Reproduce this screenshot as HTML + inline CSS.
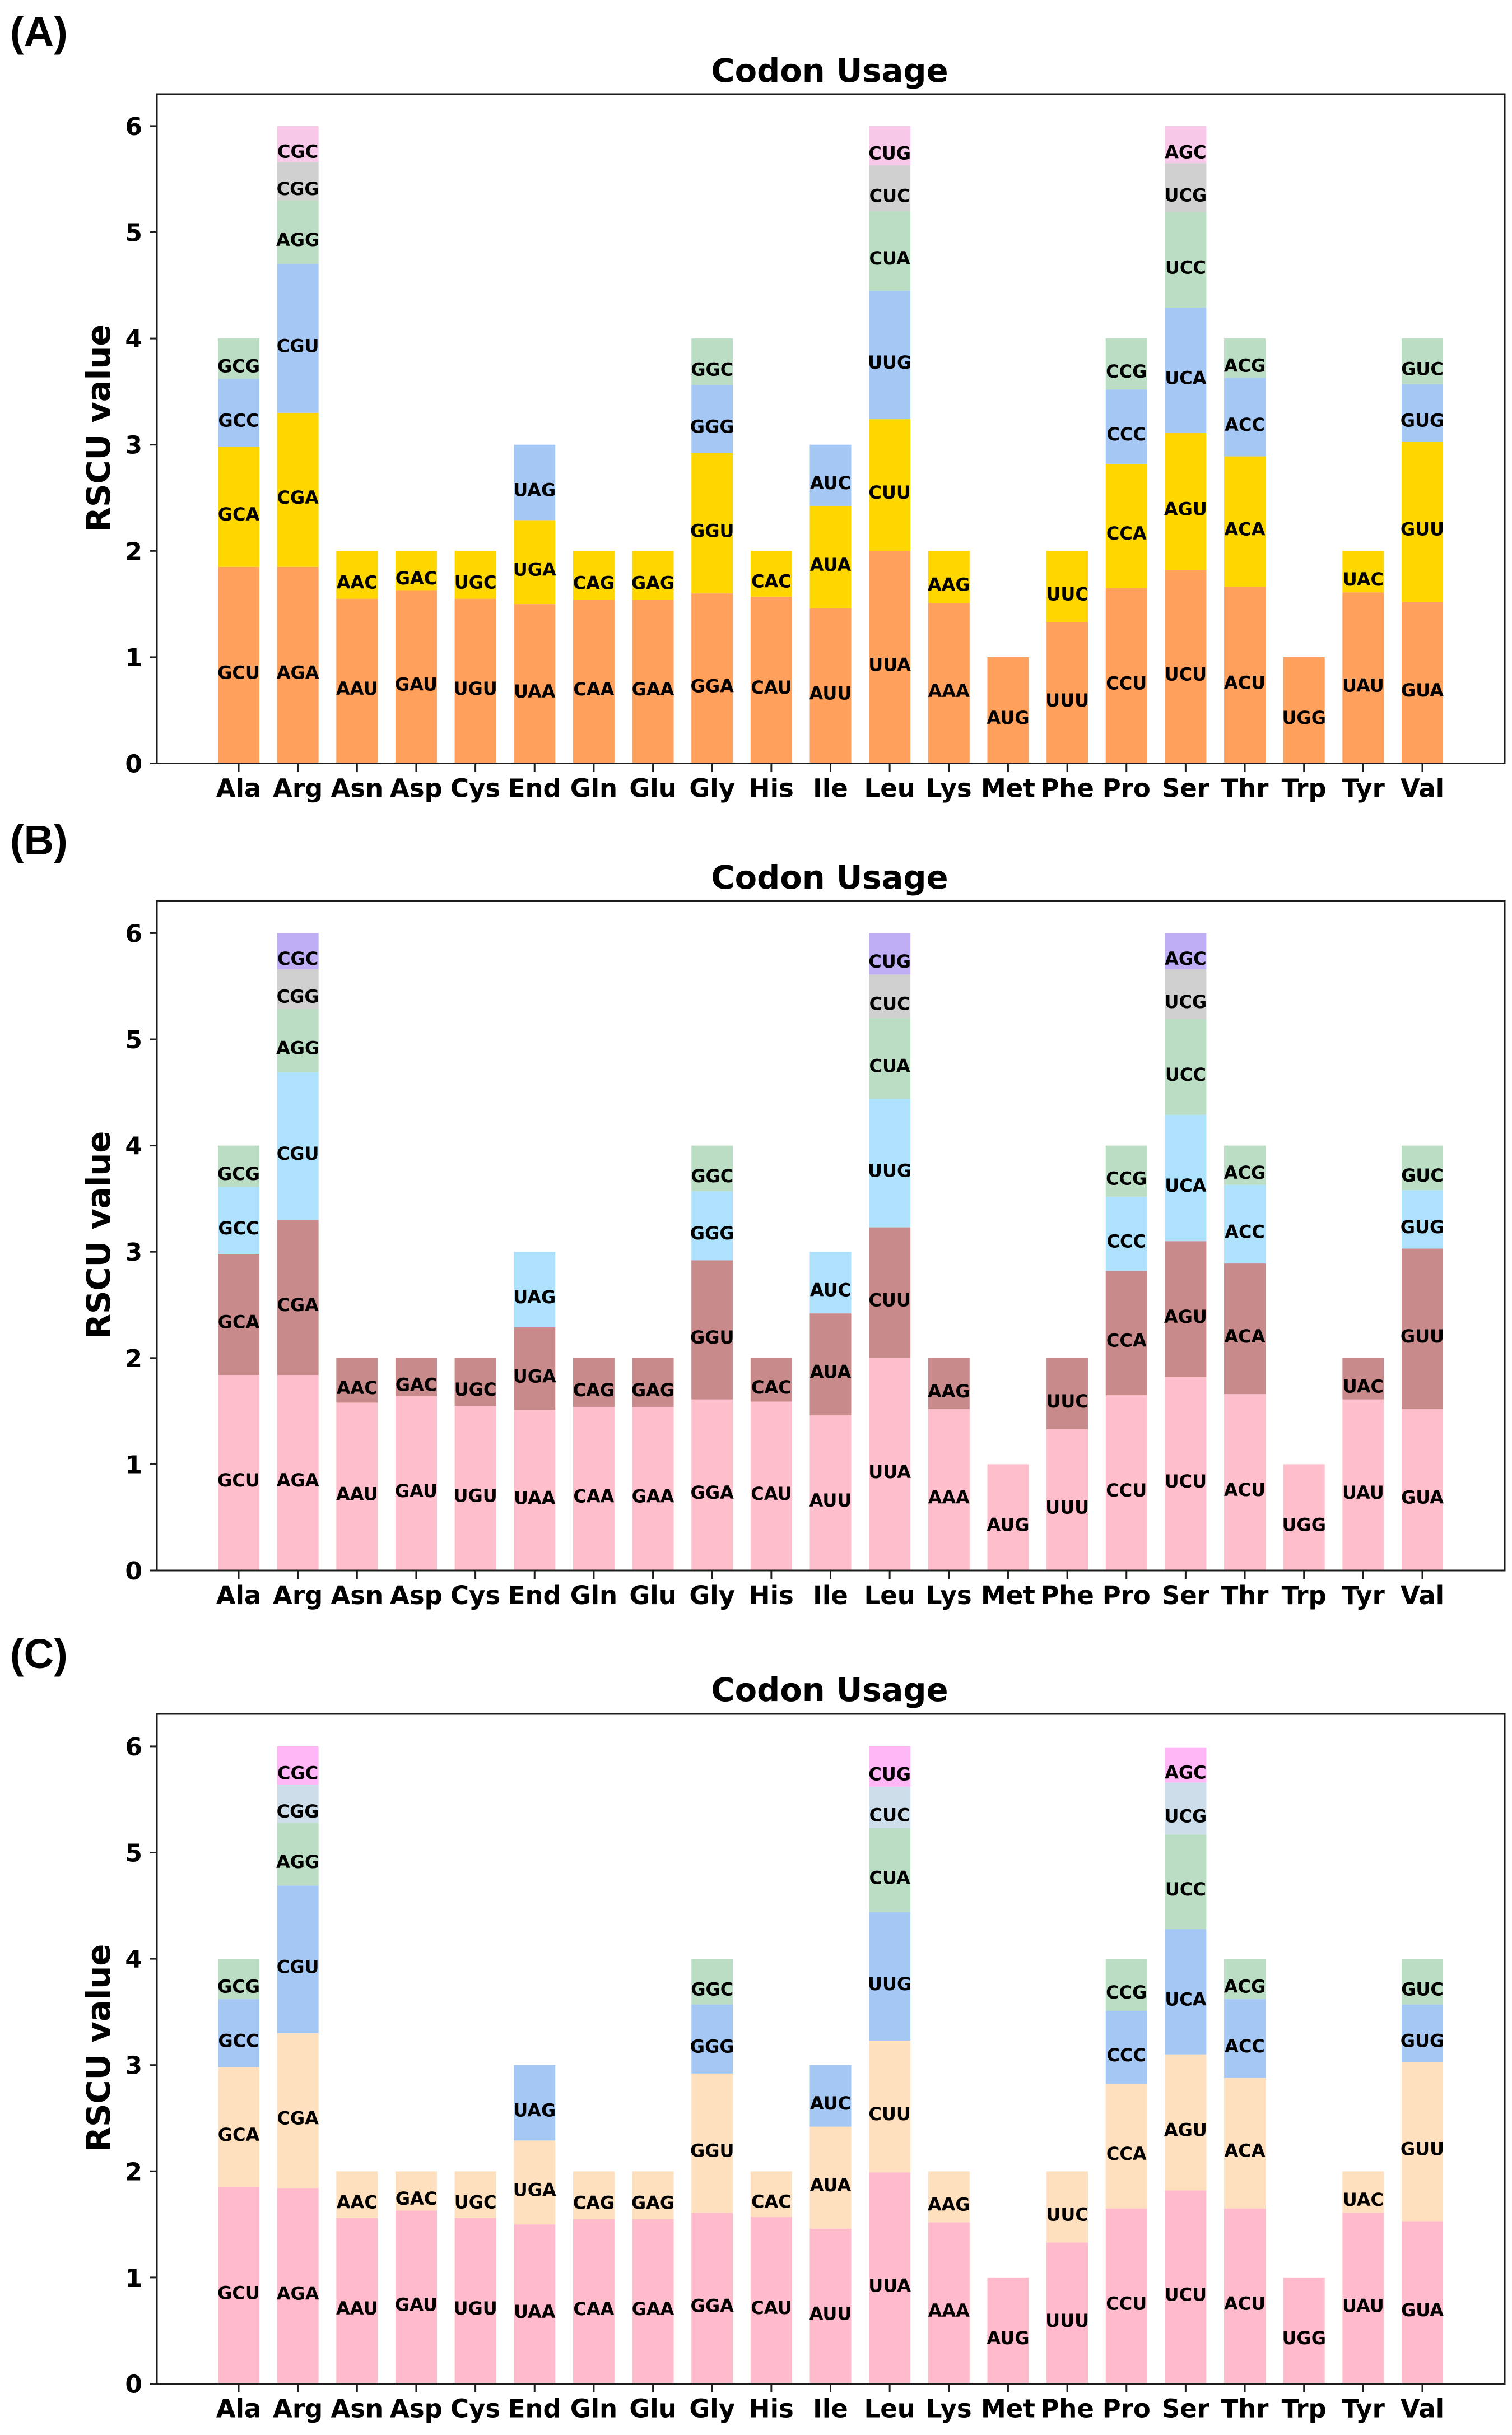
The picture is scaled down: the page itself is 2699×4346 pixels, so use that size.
<!DOCTYPE html>
<html lang="en">
<head>
<meta charset="utf-8">
<title>Codon Usage RSCU stacked bars</title>
<style>
  html, body { margin: 0; padding: 0; background: #ffffff; }
  body { width: 2699px; height: 4346px; overflow: hidden; }
  svg { display: block; }
  text { font-family: "DejaVu Sans", "Liberation Sans", sans-serif; font-weight: 700; fill: #000; }
  .panel-tag { font-family: "Liberation Sans", "DejaVu Sans", sans-serif; font-size: 74px; }
  .chart-title { font-size: 57.5px; text-anchor: middle; }
  .y-title { font-size: 57.5px; text-anchor: middle; }
</style>
</head>
<body>
<svg id="figure" xmlns="http://www.w3.org/2000/svg" width="2699" height="4346" viewBox="0 0 2699 4346">
  <rect x="0" y="0" width="2699" height="4346" fill="#ffffff"/>

  <text class="panel-tag" x="18" y="82">(A)</text>
  <text class="chart-title" x="1481" y="146">Codon Usage</text>
  <text class="y-title" transform="translate(196,764) rotate(-90)">RSCU value</text>
  <g id="panel-a"></g>

  <text class="panel-tag" x="18" y="1525">(B)</text>
  <text class="chart-title" x="1481" y="1586">Codon Usage</text>
  <text class="y-title" transform="translate(196,2204) rotate(-90)">RSCU value</text>
  <g id="panel-b"></g>

  <text class="panel-tag" x="18" y="2977">(C)</text>
  <text class="chart-title" x="1481" y="3036">Codon Usage</text>
  <text class="y-title" transform="translate(196,3655) rotate(-90)">RSCU value</text>
  <g id="panel-c"></g>
</svg>

<script>
const categories = ["Ala","Arg","Asn","Asp","Cys","End","Gln","Glu","Gly","His","Ile","Leu","Lys","Met","Phe","Pro","Ser","Thr","Trp","Tyr","Val"];
const yTickValues = [0,1,2,3,4,5,6];
const codons = [
  ["GCU","GCA","GCC","GCG"],
  ["AGA","CGA","CGU","AGG","CGG","CGC"],
  ["AAU","AAC"],
  ["GAU","GAC"],
  ["UGU","UGC"],
  ["UAA","UGA","UAG"],
  ["CAA","CAG"],
  ["GAA","GAG"],
  ["GGA","GGU","GGG","GGC"],
  ["CAU","CAC"],
  ["AUU","AUA","AUC"],
  ["UUA","CUU","UUG","CUA","CUC","CUG"],
  ["AAA","AAG"],
  ["AUG"],
  ["UUU","UUC"],
  ["CCU","CCA","CCC","CCG"],
  ["UCU","AGU","UCA","UCC","UCG","AGC"],
  ["ACU","ACA","ACC","ACG"],
  ["UGG"],
  ["UAU","UAC"],
  ["GUA","GUU","GUG","GUC"]
];
const panelAValues = [
  [1.85,1.13,0.64,0.38],
  [1.85,1.45,1.40,0.60,0.36,0.34],
  [1.55,0.45],
  [1.63,0.37],
  [1.55,0.45],
  [1.50,0.79,0.71],
  [1.54,0.46],
  [1.54,0.46],
  [1.60,1.32,0.64,0.44],
  [1.57,0.43],
  [1.46,0.96,0.58],
  [2.00,1.24,1.21,0.75,0.43,0.37],
  [1.51,0.49],
  [1.00],
  [1.33,0.67],
  [1.65,1.17,0.70,0.48],
  [1.82,1.29,1.18,0.90,0.46,0.35],
  [1.66,1.23,0.74,0.37],
  [1.00],
  [1.61,0.39],
  [1.52,1.51,0.54,0.43]
];
const panelBValues = [
  [1.84,1.14,0.63,0.39],
  [1.84,1.46,1.39,0.60,0.37,0.34],
  [1.58,0.42],
  [1.64,0.36],
  [1.55,0.45],
  [1.51,0.78,0.71],
  [1.54,0.46],
  [1.54,0.46],
  [1.61,1.31,0.65,0.43],
  [1.59,0.41],
  [1.46,0.96,0.58],
  [2.00,1.23,1.21,0.76,0.41,0.39],
  [1.52,0.48],
  [1.00],
  [1.33,0.67],
  [1.65,1.17,0.70,0.48],
  [1.82,1.28,1.19,0.90,0.47,0.34],
  [1.66,1.23,0.74,0.37],
  [1.00],
  [1.61,0.39],
  [1.52,1.51,0.55,0.42]
];
const panelCValues = [
  [1.85,1.13,0.64,0.38],
  [1.84,1.46,1.39,0.59,0.36,0.36],
  [1.56,0.44],
  [1.63,0.37],
  [1.56,0.44],
  [1.50,0.79,0.71],
  [1.55,0.45],
  [1.55,0.45],
  [1.61,1.31,0.65,0.43],
  [1.57,0.43],
  [1.46,0.96,0.58],
  [1.99,1.24,1.21,0.79,0.39,0.38],
  [1.52,0.48],
  [1.00],
  [1.33,0.67],
  [1.65,1.17,0.69,0.49],
  [1.82,1.28,1.18,0.89,0.49,0.33],
  [1.65,1.23,0.74,0.38],
  [1.00],
  [1.61,0.39],
  [1.53,1.50,0.54,0.43]
];
const panelAColors = ["#FFA05C","#FFD700","#A5C7F3","#BBDDC4","#D0D0D0","#F8C8E8"];
const panelBColors = ["#FFBECC","#C88A8A","#AEE2FC","#BBDDC4","#D0D0D0","#C0AEF5"];
const panelCColors = ["#FFBBCB","#FFE0BE","#A5C7F3","#BBDDC4","#CDDDEA","#FFB8F5"];

const NS = "http://www.w3.org/2000/svg";
const plotLeft = 280;
const plotRight = 2686;
const firstBarX = 426;
const barStep = 105.65;
const barWidth = 74;
const unitPx = 189.6;
const axisColor = "#1c1c1c";

function node(tag, attrs, parent) {
  const el = document.createElementNS(NS, tag);
  for (const k in attrs) { el.setAttribute(k, attrs[k]); }
  parent.appendChild(el);
  return el;
}
function xAxis(i) { return firstBarX + i * barStep; }

function drawPanel(groupId, prefix, values, colors, plotTop, zeroY) {
  const g = document.getElementById(groupId);
  const yAxis = function (v) { return zeroY - v * unitPx; };

  values.forEach(function (stack, i) {
    let running = 0;
    stack.forEach(function (h, s) {
      const top = yAxis(running + h);
      const bottom = yAxis(running);
      const bar = node("rect", { x: xAxis(i) - barWidth / 2, y: top, width: barWidth, height: bottom - top, fill: colors[s] }, g);
      
      
      running += h;
    });
  });

  values.forEach(function (stack, i) {
    let running = 0;
    stack.forEach(function (h, s) {
      const centerY = yAxis(running + h / 2);
      const label = node("text", { x: xAxis(i), y: centerY + 24.5, "text-anchor": "middle", "font-size": 32 }, g);
      label.textContent = codons[i][s];
      
      
      running += h;
    });
  });

  const frame = node("rect", { x: plotLeft, y: plotTop, width: plotRight - plotLeft, height: zeroY - plotTop, fill: "none", stroke: axisColor, "stroke-width": 3 }, g);
  
  

  yTickValues.forEach(function (v) {
    const tick = node("line", { x1: plotLeft - 12, x2: plotLeft, y1: yAxis(v), y2: yAxis(v), stroke: axisColor, "stroke-width": 3 }, g);
    
    
    const lab = node("text", { x: 254, y: yAxis(v) + 16, "text-anchor": "end", "font-size": 44 }, g);
    lab.textContent = String(v);
    
    
  });

  categories.forEach(function (name, i) {
    const tick = node("line", { x1: xAxis(i), x2: xAxis(i), y1: zeroY, y2: zeroY + 15, stroke: axisColor, "stroke-width": 3 }, g);
    
    
    const lab = node("text", { x: xAxis(i), y: zeroY + 60, "text-anchor": "middle", "font-size": 45 }, g);
    lab.textContent = name;
    
    
  });
}

drawPanel("panel-a", "panel-a", panelAValues, panelAColors, 168, 1362.5);
drawPanel("panel-b", "panel-b", panelBValues, panelBColors, 1608.5, 2803);
drawPanel("panel-c", "panel-c", panelCValues, panelCColors, 3059, 4254.5);
</script>
</body>
</html>
